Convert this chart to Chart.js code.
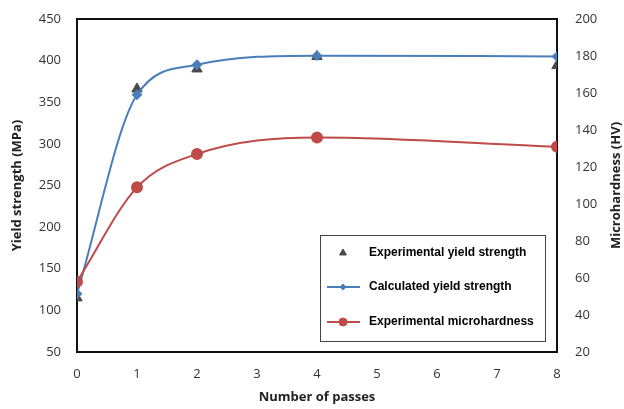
<!DOCTYPE html>
<html>
<head>
<meta charset="utf-8">
<script src="https://cdn.jsdelivr.net/npm/chart.js@4.4.1/dist/chart.umd.min.js"></script>
<style>
  html, body { margin: 0; padding: 0; background: #fff; }
  #wrap { width: 624px; height: 409px; }
</style>
</head>
<body>
<div id="wrap"><canvas id="chart" width="624" height="409"></canvas></div>
<script>
var passes = [0, 1, 2, 4, 8];
var expYield = [115, 366, 390, 405, 394];
var calcYield = [120, 359, 395, 406, 405];
var microhardness = [58, 109, 127, 136, 131];
var legendLabels = ['Experimental yield strength', 'Calculated yield strength', 'Experimental microhardness'];
var rightTitle = 'Microhardness (HV)';

function pts(ys) {
    return passes.map(function(x, i) { return {x: x, y: ys[i]}; });
}

var tickFont = { family: 'Open Sans', size: 13 };
var titleFont = { family: 'Open Sans', size: 13, weight: 'bold' };

// legend box drawn inside the plot, like the excel one
var boxLegend = {
    id: 'boxLegend',
    afterDraw: function(chart) {
        var ctx = chart.ctx;
        var x0 = 320, y0 = 235, w = 225, h = 106;
        ctx.save();
        ctx.fillStyle = '#fff';
        ctx.fillRect(x0, y0, w, h);
        ctx.strokeStyle = '#444';
        ctx.lineWidth = 1;
        ctx.strokeRect(x0 + 0.5, y0 + 0.5, w, h);
        var rows = [253, 287, 322];
        var sizes = [4, 3, 4];
        var ds = chart.data.datasets;
        for (var i = 0; i < 3; i++) {
            var y = rows[i];
            var d = ds[i];
            if (d.showLine !== false) {
                ctx.strokeStyle = d.borderColor;
                ctx.lineWidth = 2;
                ctx.beginPath();
                ctx.moveTo(327, y);
                ctx.lineTo(360, y);
                ctx.stroke();
            }
            ctx.fillStyle = d.pointBackgroundColor;
            ctx.strokeStyle = d.pointBorderColor;
            ctx.lineWidth = 1;
            Chart.helpers.drawPoint(ctx, {pointStyle: d.pointStyle, radius: sizes[i], borderWidth: 1}, 343, y);
            ctx.fillStyle = '#000';
            ctx.font = 'bold 12px "Liberation Sans Narrow", "Liberation Sans", sans-serif';
            ctx.textBaseline = 'middle';
            ctx.textAlign = 'left';
            ctx.fillText(legendLabels[i], 369, y);
        }
        ctx.restore();
    }
};

// black frame around the plot + right title reading upwards
var frame = {
    id: 'frame',
    beforeDatasetsDraw: function(chart) {
        var a = chart.chartArea, ctx = chart.ctx;
        ctx.save();
        ctx.strokeStyle = '#111';
        ctx.lineWidth = 2;
        ctx.strokeRect(a.left, a.top, a.right - a.left, a.bottom - a.top);
        ctx.translate(616, (a.top + a.bottom) / 2);
        ctx.rotate(-Math.PI / 2);
        ctx.fillStyle = '#222';
        ctx.font = 'bold 13px "Open Sans"';
        ctx.textAlign = 'center';
        ctx.textBaseline = 'middle';
        ctx.fillText(rightTitle, 0, 0);
        ctx.restore();
    }
};

new Chart(document.getElementById('chart'), {
    type: 'line',
    data: {
        datasets: [{
            label: legendLabels[0],
            data: pts(expYield),
            yAxisID: 'y',
            showLine: false,
            pointStyle: 'triangle',
            pointRadius: 6,
            pointBackgroundColor: '#4a4a4a',
            pointBorderColor: '#4a4a4a',
            borderColor: '#4a4a4a',
            order: 3
        }, {
            label: legendLabels[1],
            data: pts(calcYield),
            yAxisID: 'y',
            borderColor: '#4a7ebb',
            borderWidth: 2,
            pointStyle: 'rectRot',
            pointRadius: 4,
            pointBackgroundColor: '#4a7ebb',
            pointBorderColor: '#4a7ebb',
            cubicInterpolationMode: 'monotone',
            order: 2
        }, {
            label: legendLabels[2],
            data: pts(microhardness),
            yAxisID: 'y1',
            borderColor: '#be4b48',
            borderWidth: 2,
            pointStyle: 'circle',
            pointRadius: 5,
            pointBackgroundColor: '#be4b48',
            pointBorderColor: '#be4b48',
            cubicInterpolationMode: 'monotone',
            order: 1
        }]
    },
    options: {
        responsive: false,
        animation: false,
        layout: { padding: { top: 19, left: 0, right: 0, bottom: 0 } },
        plugins: { legend: { display: false }, tooltip: { enabled: false } },
        scales: {
            x: {
                type: 'linear',
                min: 0, max: 8,
                ticks: { stepSize: 1, font: tickFont, color: '#333', padding: 6 },
                grid: { display: false },
                border: { display: false },
                title: { display: true, text: 'Number of passes', font: titleFont, color: '#222', padding: 4 },
                afterFit: function(s) { s.height = 57; }
            },
            y: {
                position: 'left',
                min: 50, max: 450,
                ticks: { stepSize: 50, font: tickFont, color: '#333', padding: 8 },
                grid: { display: false },
                border: { display: false },
                title: { display: true, text: 'Yield strength (MPa)', font: titleFont, color: '#222', padding: { top: 9, bottom: 4 } },
                afterFit: function(s) { s.width = 77; }
            },
            y1: {
                position: 'right',
                min: 20, max: 200,
                ticks: { stepSize: 20, font: tickFont, color: '#333', padding: 10 },
                grid: { display: false },
                border: { display: false },
                title: { display: false },
                afterFit: function(s) { s.width = 67; }
            }
        }
    },
    plugins: [frame, boxLegend]
});
</script>
</body>
</html>
